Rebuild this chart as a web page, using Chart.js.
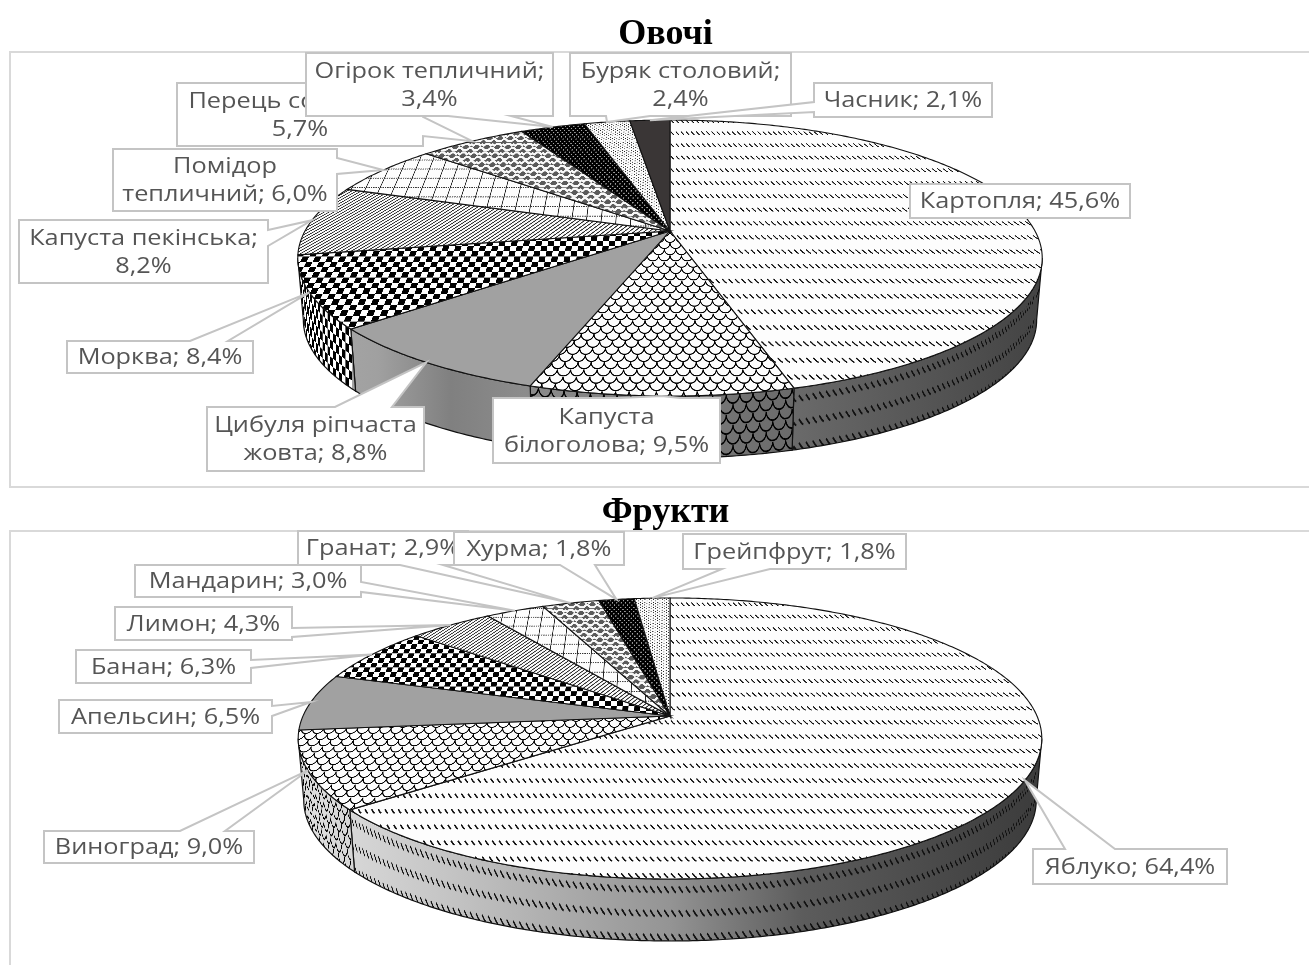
<!DOCTYPE html>
<html lang="uk">
<head>
<meta charset="utf-8">
<title>Овочі та фрукти</title>
<script src="https://cdn.jsdelivr.net/npm/chart.js@4"></script>
<style>
  html, body { margin: 0; padding: 0; background: #fff; }
  body { position: relative; width: 1309px; height: 965px; overflow: hidden; }
  canvas { position: absolute; left: 0; }
  .frame { position: absolute; left: 9px; right: -4px; border: 2px solid #d9d9d9; box-sizing: border-box; }
</style>
</head>
<body>
<div class="frame" style="top:51px;height:437px"></div>
<div class="frame" style="top:530px;height:460px"></div>
<canvas id="vegChart" width="1309" height="487" style="top:0"></canvas>
<canvas id="fruitChart" width="1309" height="478" style="top:487px"></canvas>
<script>
const vegLabels = ['Картопля', 'Капуста білоголова', 'Цибуля ріпчаста жовта', 'Морква', 'Капуста пекінська',
  'Помідор тепличний', 'Перець солодкий', 'Огірок тепличний', 'Буряк столовий', 'Часник'];
const vegValues = [45.6, 9.5, 8.8, 8.4, 8.2, 6.0, 5.7, 3.4, 2.4, 2.1];

const fruitLabels = ['Яблуко', 'Виноград', 'Апельсин', 'Банан', 'Лимон', 'Мандарин', 'Гранат', 'Хурма', 'Грейпфрут'];
const fruitValues = [64.4, 9.0, 6.5, 6.3, 4.3, 3.0, 2.9, 1.8, 1.8];

// same order of fills on both pies
const fillOrder = ['wave', 'scales', 'gray', 'checker', 'hatch', 'grid', 'weave', 'darkDots', 'lightDots', 'dark'];

// pie projection: k is the perspective strength, A the vertical radius, R the horizontal one
const vegGeom = { cx: 670, cy: 231, R: 365, A: 132.7, k: 0.196, depth: 62,
  wall: [[0, '#a8a8a8'], [0.1, '#a0a0a0'], [0.2, '#808080'], [0.3, '#8c8c8c'], [0.55, '#777777'], [0.67, '#6a6a6a'], [1, '#444444']] };
const fruitGeom = { cx: 670, cy: 229, R: 367, A: 136.9, k: 0.16, depth: 62,
  wall: [[0, '#e0e0e0'], [0.2, '#c4c4c4'], [0.5, '#949494'], [0.68, '#5c5c5c'], [1, '#3c3c3c']] };

// callout boxes, one per slice; side/b0/b1 say where the pointer leaves the box
const vegCallouts = [
  { x: 910, y: 184, w: 220, h: 34 },
  { x: 493, y: 398, w: 227, h: 65, br: 1, side: 'top', b0: 620, b1: 680 },
  { x: 207, y: 407, w: 217, h: 64, br: 2, side: 'top', b0: 335, b1: 392 },
  { x: 67, y: 341, w: 186, h: 32, side: 'top', b0: 190, b1: 228 },
  { x: 19, y: 220, w: 249, h: 63, br: 2, side: 'right', b0: 230, b1: 246 },
  { x: 113, y: 149, w: 224, h: 62, br: 1, side: 'right', b0: 158, b1: 174 },
  { x: 177, y: 83, w: 246, h: 63, br: 2, side: 'right', b0: 117, b1: 136 },
  { x: 306, y: 53, w: 247, h: 63, br: 2, side: 'bottom', b0: 448, b1: 511 },
  { x: 570, y: 53, w: 221, h: 63, br: 2, side: 'bottom', b0: 606, b1: 650 },
  { x: 814, y: 83, w: 178, h: 34, side: 'left', b0: 102, b1: 112 }
];
const fruitCallouts = [
  { x: 1033, y: 362, w: 194, h: 35, side: 'top', b0: 1065, b1: 1115 },
  { x: 44, y: 344, w: 210, h: 32, side: 'top', b0: 180, b1: 225 },
  { x: 59, y: 213, w: 213, h: 33, side: 'right', b0: 219, b1: 229 },
  { x: 76, y: 163, w: 175, h: 33, side: 'right', b0: 173, b1: 181 },
  { x: 115, y: 120, w: 177, h: 33, side: 'right', b0: 141, b1: 150 },
  { x: 135, y: 78, w: 226, h: 32, side: 'right', b0: 95, b1: 105 },
  { x: 298, y: 44, w: 170, h: 34, side: 'bottom', b0: 400, b1: 443 },
  { x: 454, y: 45, w: 170, h: 33, side: 'bottom', b0: 560, b1: 595 },
  { x: 683, y: 47, w: 223, h: 35, side: 'bottom', b0: 722, b1: 770 }
];

// pattern tiles, drawn at 3x so they stay clean when resampled
const tileScale = 3;
const tiles = {
  wave: { w: 6, h: 14, draw(c) {
    c.strokeStyle = '#111';
    c.lineWidth = 1.25;
    c.beginPath();
    c.moveTo(0.6, 4.6);
    c.bezierCurveTo(2, 5, 2.6, 7.6, 4.6, 8);
    c.stroke();
  } },
  scales: { w: 11, h: 12, draw(c) {
    c.strokeStyle = '#000';
    c.lineWidth = 1;
    const cell = (x, y) => {
      c.beginPath();
      c.moveTo(x, y);
      c.bezierCurveTo(x + 0.5, y + 7, x + 10.5, y + 7, x + 11, y);
      c.stroke();
    };
    for (const y of [-6, 6]) {
      cell(-5.5, y); cell(5.5, y);
    }
    for (const y of [0, 12]) {
      cell(0, y); cell(-11, y); cell(11, y);
    }
  } },
  checker: { w: 12, h: 10, draw(c) {
    c.fillStyle = '#fff';
    c.fillRect(0, 0, 12, 10);
    c.fillStyle = '#000';
    c.fillRect(0, 0, 6, 5);
    c.fillRect(6, 5, 6, 5);
  } },
  hatch: { w: 5, h: 4, draw(c) {
    c.strokeStyle = '#2a2a2a';
    c.lineWidth = 1;
    c.beginPath();
    for (const x of [-5, 0, 5]) {
      c.moveTo(x - 1.25, 5); c.lineTo(x + 6.25, -1);
    }
    c.stroke();
  } },
  grid: { w: 15, h: 10, draw(c) {
    c.strokeStyle = '#222';
    c.lineWidth = 0.9;
    c.beginPath();
    c.moveTo(5, 0); c.lineTo(5, 10);
    c.stroke();
    c.setLineDash([1.5, 1]);
    c.strokeStyle = '#333';
    c.lineWidth = 1;
    c.beginPath();
    c.moveTo(0, 5); c.lineTo(15, 5);
    c.stroke();
  } },
  weave: { w: 12, h: 10, draw(c) {
    c.fillStyle = '#5a5a5a';
    c.fillRect(0, 0, 12, 10);
    c.strokeStyle = '#f8f8f8';
    c.lineWidth = 2.3;
    c.lineJoin = 'round';
    c.beginPath();
    c.moveTo(-1, 1.5); c.lineTo(2, 1.5); c.lineTo(5, 3.8); c.lineTo(9, 3.8); c.lineTo(11, 1.5); c.lineTo(13, 1.5);
    c.moveTo(-1, 6.5); c.lineTo(3, 8.8); c.lineTo(5, 6.5); c.lineTo(8, 6.5); c.lineTo(11, 8.8); c.lineTo(13, 6.5);
    c.stroke();
  } },
  darkDots: { w: 5, h: 5, draw(c) {
    c.fillStyle = '#000';
    c.fillRect(0, 0, 5, 5);
    c.fillStyle = '#a8a8a8';
    c.beginPath();
    c.arc(1.2, 1.2, 0.8, 0, 7);
    c.arc(3.7, 3.7, 0.8, 0, 7);
    c.fill();
  } },
  lightDots: { w: 5, h: 3, draw(c) {
    c.fillStyle = '#222';
    c.beginPath();
    c.arc(1, 1, 0.65, 0, 7);
    c.arc(3.4, 2.4, 0.55, 0, 7);
    c.fill();
  } }
};
const solidFills = { gray: '#a1a1a1', dark: '#3a3636' };

function makeFill(name, background) {
  if (solidFills[name]) return solidFills[name];
  const t = tiles[name];
  const tile = document.createElement('canvas');
  tile.width = t.w * tileScale;
  tile.height = t.h * tileScale;
  const c = tile.getContext('2d');
  c.scale(tileScale, tileScale);
  if (background) {
    c.fillStyle = background;
    c.fillRect(0, 0, t.w, t.h);
  }
  t.draw(c);
  const pattern = c.createPattern(tile, 'repeat');
  pattern.setTransform(new DOMMatrix().scale(1 / tileScale));
  return pattern;
}

function project(g, angle, shrink = 1) {
  const d = 1 - g.k * Math.sin(angle);
  return { x: g.cx + g.R * shrink * Math.cos(angle) / d, y: g.cy + g.A * Math.sin(angle) / d };
}

function traceRim(ctx, g, from, to, shrink = 1, dy = 0) {
  const steps = Math.max(2, Math.ceil(Math.abs(to - from) / 0.01));
  for (let i = 0; i <= steps; i++) {
    const p = project(g, from + (to - from) * i / steps, shrink);
    ctx.lineTo(p.x, p.y + dy);
  }
}

// front wall of one slice; columns follow the rim so the pattern bends with it
function drawWall(ctx, g, arc, name, gradient) {
  const turn = Math.asin(g.k);
  const a0 = Math.max(arc.startAngle, turn);
  const a1 = Math.min(arc.endAngle, Math.PI - turn);
  if (a1 <= a0) return;

  ctx.save();
  ctx.beginPath();
  traceRim(ctx, g, a0, a1);
  traceRim(ctx, g, a1, a0, 0.985, g.depth);
  ctx.closePath();
  ctx.fillStyle = gradient;
  ctx.fill();

  if (!solidFills[name]) {
    ctx.save();
    ctx.clip();
    ctx.fillStyle = makeFill(name, null);
    const stretch = 1.7;
    let a = a0;
    for (let px = Math.ceil(project(g, a0).x); px >= Math.floor(project(g, a1).x); px--) {
      while (a < a1 && project(g, a).x > px) a += 0.0004;
      const p = project(g, a);
      const slope = Math.abs(project(g, a + 0.001).x - project(g, a - 0.001).x) / 0.002 / g.R;
      const sx = Math.min(1.4, Math.max(0.2, slope));
      const ps = -a * g.R;
      ctx.setTransform(sx, 0, 0, stretch, px - ps * sx, p.y);
      ctx.fillRect(ps, -1, 1.02 / sx, (g.depth + 6) / stretch);
    }
    ctx.restore();
  }
  ctx.strokeStyle = '#111';
  ctx.lineWidth = 1.2;
  ctx.stroke();
  ctx.restore();
}

// top face of one slice, painted row by row so the tiles grow towards the viewer
function drawTop(ctx, g, arc, name) {
  ctx.save();
  ctx.beginPath();
  ctx.moveTo(g.cx, g.cy);
  traceRim(ctx, g, arc.startAngle, arc.endAngle);
  ctx.closePath();
  const fill = makeFill(name, '#fdfdfd');
  ctx.fillStyle = fill;
  if (solidFills[name]) {
    ctx.fill();
  } else {
    ctx.save();
    ctx.clip();
    const top = Math.floor(g.cy - g.A / (1 + g.k));
    const bottom = Math.ceil(g.cy + g.A / (1 - g.k));
    for (let y = top; y <= bottom; y++) {
      const dy = y - g.cy;
      const v = dy / (g.A + g.k * dy);
      const d = 1 - g.k * v;
      const s = 1 / d;
      const py = -(g.A / g.k) * Math.log(d);
      ctx.setTransform(s, 0, 0, s, g.cx, y - py * s);
      ctx.fillRect(-g.R * 1.2, py, g.R * 2.4, 1.02 / s);
    }
    ctx.restore();
  }
  ctx.strokeStyle = '#111';
  ctx.lineWidth = 1.1;
  ctx.stroke();
  ctx.restore();
}

function calloutPath(ctx, box, tip) {
  const { x, y, w, h, side, b0, b1 } = box;
  ctx.beginPath();
  ctx.moveTo(x, y);
  if (side === 'top') { ctx.lineTo(b0, y); ctx.lineTo(tip.x, tip.y); ctx.lineTo(b1, y); }
  ctx.lineTo(x + w, y);
  if (side === 'right') { ctx.lineTo(x + w, b0); ctx.lineTo(tip.x, tip.y); ctx.lineTo(x + w, b1); }
  ctx.lineTo(x + w, y + h);
  if (side === 'bottom') { ctx.lineTo(b1, y + h); ctx.lineTo(tip.x, tip.y); ctx.lineTo(b0, y + h); }
  ctx.lineTo(x, y + h);
  if (side === 'left') { ctx.lineTo(x, b1); ctx.lineTo(tip.x, tip.y); ctx.lineTo(x, b0); }
  ctx.closePath();
}

function formatValue(value) {
  return value.toFixed(1).replace('.', ',') + '%';
}

function drawCallouts(chart, g, callouts) {
  const ctx = chart.ctx;
  const arcs = chart.getDatasetMeta(0).data;
  const labels = chart.data.labels;
  const values = chart.data.datasets[0].data;
  const widen = 1.15;
  ctx.save();
  ctx.font = '22px "Open Sans"';
  ctx.textAlign = 'center';
  ctx.textBaseline = 'middle';
  callouts.forEach((box, i) => {
    const mid = (arcs[i].startAngle + arcs[i].endAngle) / 2;
    calloutPath(ctx, box, project(g, mid));
    ctx.fillStyle = '#fff';
    ctx.fill();
    ctx.strokeStyle = '#c4c4c4';
    ctx.lineWidth = 2;
    ctx.stroke();

    const words = (labels[i] + '; ' + formatValue(values[i])).split(' ');
    const lines = box.br ? [words.slice(0, box.br).join(' '), words.slice(box.br).join(' ')] : [words.join(' ')];
    ctx.fillStyle = '#555555';
    lines.forEach((line, n) => {
      const lineY = box.y + box.h / 2 + 1 + (n - (lines.length - 1) / 2) * 28;
      ctx.save();
      ctx.translate(box.x + box.w / 2, lineY);
      ctx.scale(widen, 1);
      ctx.fillText(line, 0, 0);
      ctx.restore();
    });
  });
  ctx.restore();
}

const pie3d = {
  id: 'pie3d',
  beforeDatasetsDraw(chart, args, opts) {
    const ctx = chart.ctx;
    const g = opts.geom;
    const arcs = chart.getDatasetMeta(0).data;
    const gradient = ctx.createLinearGradient(g.cx - g.R, 0, g.cx + g.R, 0);
    g.wall.forEach(([stop, color]) => gradient.addColorStop(stop, color));
    arcs.forEach((arc, i) => drawWall(ctx, g, arc, fillOrder[i], gradient));
    arcs.forEach((arc, i) => drawTop(ctx, g, arc, fillOrder[i]));
    return false; // the stock flat arcs are not wanted
  },
  afterDraw(chart, args, opts) {
    drawCallouts(chart, opts.geom, opts.callouts);
  }
};

function makePie(id, title, labels, values, geom, callouts, titleLeft, titleTop) {
  return new Chart(document.getElementById(id), {
    type: 'pie',
    data: { labels: labels, datasets: [{ data: values, borderWidth: 0 }] },
    plugins: [pie3d],
    options: {
      responsive: false,
      animation: false,
      events: [],
      layout: { padding: { left: titleLeft } },
      plugins: {
        legend: { display: false },
        tooltip: { enabled: false },
        title: {
          display: true,
          text: title,
          color: '#000',
          font: { family: '"Liberation Serif"', size: 36, weight: 'bold' },
          padding: { top: titleTop, bottom: 4 }
        },
        pie3d: { geom: geom, callouts: callouts }
      }
    }
  });
}

makePie('vegChart', 'Овочі', vegLabels, vegValues, vegGeom, vegCallouts, 22, 13);
makePie('fruitChart', 'Фрукти', fruitLabels, fruitValues, fruitGeom, fruitCallouts, 22, 4);
</script>
</body>
</html>
